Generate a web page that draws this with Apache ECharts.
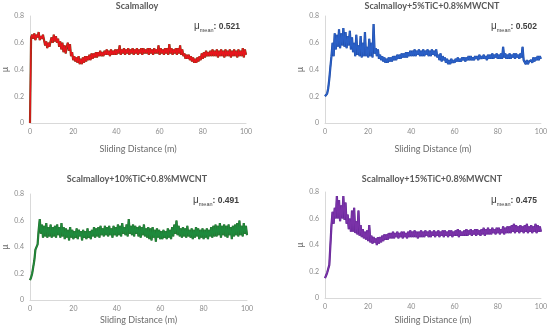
<!DOCTYPE html>
<html><head><meta charset="utf-8">
<script src="https://cdn.jsdelivr.net/npm/echarts@6/dist/echarts.min.js"></script>
<style>html,body{margin:0;padding:0;background:#fff}#c{width:550px;height:326px}</style>
</head><body><div id="c"></div>
<script>
const distance = [
0,0.5,1,1.5,2,2.5,3,3.5,4,4.5,5,5.5,6,6.5,7,7.5,8,8.5,9,9.5,
10,10.5,11,11.5,12,12.5,13,13.5,14,14.5,15,15.5,16,16.5,17,17.5,18,18.5,19,19.5,
20,20.5,21,21.5,22,22.5,23,23.5,24,24.5,25,25.5,26,26.5,27,27.5,28,28.5,29,29.5,
30,30.5,31,31.5,32,32.5,33,33.5,34,34.5,35,35.5,36,36.5,37,37.5,38,38.5,39,39.5,
40,40.5,41,41.5,42,42.5,43,43.5,44,44.5,45,45.5,46,46.5,47,47.5,48,48.5,49,49.5,
50,50.5,51,51.5,52,52.5,53,53.5,54,54.5,55,55.5,56,56.5,57,57.5,58,58.5,59,59.5,
60,60.5,61,61.5,62,62.5,63,63.5,64,64.5,65,65.5,66,66.5,67,67.5,68,68.5,69,69.5,
70,70.5,71,71.5,72,72.5,73,73.5,74,74.5,75,75.5,76,76.5,77,77.5,78,78.5,79,79.5,
80,80.5,81,81.5,82,82.5,83,83.5,84,84.5,85,85.5,86,86.5,87,87.5,88,88.5,89,89.5,
90,90.5,91,91.5,92,92.5,93,93.5,94,94.5,95,95.5,96,96.5,97,97.5,98,98.5,99,99.5,
100];

const muScalmalloy = [
0.00,0.64,
0.66,0.63,0.67,0.62,0.66,0.64,0.68,0.62,0.65,0.63,0.66,
0.62,0.58,0.61,0.56,0.60,0.57,0.61,
0.64,0.60,0.66,0.61,0.65,
0.60,0.63,0.57,0.61,0.55,0.60,
0.53,0.58,0.52,0.57,
0.60,0.54,0.59,
0.50,0.53,0.47,
0.50,0.46,0.49,0.45,0.50,0.44,0.48,0.44,0.49,0.45,
0.50,0.46,0.50,0.47,0.51,0.47,0.52,0.48,0.52,0.49,
0.53,0.49,0.53,0.50,0.54,0.50,0.53,0.50,0.54,0.51,
0.55,0.51,0.54,0.50,0.55,0.51,0.54,0.51,0.55,0.51,
0.55,0.52,0.58,0.51,0.55,0.52,0.56,0.51,0.55,0.52,
0.56,0.51,0.55,0.52,0.56,0.51,0.55,0.52,0.56,0.51,
0.55,0.52,0.56,0.51,0.56,0.52,0.55,0.52,0.56,0.51,
0.56,0.52,0.55,0.51,0.56,0.52,0.55,0.52,0.58,0.51,
0.56,0.52,0.55,0.51,0.56,0.52,0.56,0.51,0.59,0.52,
0.56,0.51,0.55,0.52,0.56,0.51,0.56,0.52,0.58,0.51,
0.55,0.50,0.52,0.48,0.51,0.48,0.51,0.47,0.50,0.46,
0.49,0.45,0.48,0.45,0.49,0.46,0.50,0.47,0.52,0.48,
0.53,0.49,0.54,0.50,0.53,0.50,0.54,0.50,0.55,0.50,
0.54,0.50,0.55,0.49,0.54,0.50,0.55,0.50,0.54,0.49,
0.55,0.50,0.54,0.50,0.55,0.49,0.54,0.50,0.55,0.50,
0.54,0.49,0.55,0.50,0.54,0.50,0.56,0.49,0.55,0.51];

const mu5TiC = [
0.20,0.20,0.22,0.26,0.33,0.42,0.50,
0.60,0.50,0.67,0.55,
0.66,0.57,0.70,0.56,0.67,0.58,0.71,0.57,0.68,0.56,0.65,0.58,0.69,0.55,0.64,0.53,
0.60,0.50,0.66,0.51,0.58,0.50,0.65,0.49,0.60,0.50,0.68,0.50,0.57,0.49,0.63,0.50,0.60,0.49,0.74,0.52,
0.56,0.50,0.55,0.48,
0.51,0.47,0.50,0.46,0.49,0.45,0.48,0.45,0.49,0.46,
0.49,0.46,0.50,0.47,0.50,0.47,0.51,0.48,0.51,0.48,
0.52,0.49,0.52,0.49,0.53,0.49,0.53,0.50,0.54,0.50,
0.54,0.50,0.55,0.50,0.54,0.51,0.55,0.50,0.54,0.50,
0.55,0.50,0.54,0.51,0.55,0.50,0.54,0.50,0.55,0.51,
0.54,0.50,0.55,0.49,0.51,0.47,0.52,0.46,0.50,0.47,
0.49,0.45,0.48,0.44,0.47,0.44,0.48,0.45,0.47,0.45,
0.48,0.46,0.49,0.46,0.48,0.46,0.49,0.47,0.49,0.46,
0.49,0.47,0.50,0.47,0.50,0.47,0.49,0.47,0.50,0.48,
0.50,0.47,0.51,0.48,0.50,0.48,0.51,0.48,0.50,0.47,
0.51,0.48,0.51,0.48,0.52,0.48,0.51,0.49,0.52,0.48,
0.51,0.48,0.52,0.48,0.57,0.49,0.52,0.48,0.51,0.48,
0.52,0.48,0.51,0.49,0.52,0.48,0.52,0.49,0.51,0.48,
0.52,0.49,0.57,0.47,0.46,0.44,0.47,0.44,0.46,0.45,
0.47,0.45,0.49,0.46,0.49,0.47,0.50,0.47,0.50,0.48];

const mu10TiC = [
0.15,0.17,0.20,0.25,0.30,0.38,0.39,0.42,0.53,0.61,0.50,
0.57,0.47,0.56,0.48,0.58,0.47,0.55,0.48,0.57,0.47,
0.55,0.48,0.56,0.47,0.57,0.49,0.55,0.47,0.58,0.48,
0.55,0.46,0.54,0.47,0.53,0.45,0.55,0.47,0.53,0.46,
0.52,0.47,0.54,0.46,0.53,0.48,0.52,0.45,0.53,0.47,
0.52,0.46,0.54,0.47,0.52,0.46,0.53,0.48,0.55,0.47,
0.54,0.48,0.55,0.47,0.56,0.49,0.54,0.48,0.56,0.49,
0.55,0.48,0.56,0.49,0.54,0.47,0.56,0.49,0.55,0.48,
0.57,0.49,0.56,0.48,0.58,0.50,0.55,0.49,0.57,0.48,
0.61,0.50,0.56,0.49,0.57,0.48,0.56,0.50,0.55,0.48,
0.56,0.47,0.55,0.49,0.57,0.48,0.54,0.47,0.55,0.46,
0.54,0.45,0.55,0.47,0.53,0.44,0.54,0.47,0.53,0.46,
0.52,0.46,0.53,0.47,0.52,0.46,0.54,0.47,0.53,0.46,
0.55,0.48,0.57,0.50,0.60,0.49,0.56,0.48,0.54,0.47,
0.55,0.48,0.54,0.47,0.56,0.48,0.53,0.47,0.54,0.46,
0.53,0.47,0.55,0.48,0.54,0.46,0.53,0.47,0.54,0.46,
0.53,0.47,0.54,0.46,0.53,0.48,0.55,0.47,0.56,0.48,
0.57,0.48,0.56,0.49,0.58,0.47,0.56,0.49,0.57,0.48,
0.56,0.47,0.57,0.49,0.55,0.46,0.56,0.48,0.57,0.49,
0.58,0.48,0.60,0.49,0.56,0.48,0.58,0.50,0.56,0.49];

const mu15TiC = [
0.15,0.17,0.19,0.20,0.25,0.40,0.55,
0.65,0.56,0.68,0.60,
0.77,0.60,0.74,0.58,0.70,0.60,0.77,0.59,0.72,0.56,
0.63,0.52,0.60,0.50,0.66,0.50,0.68,0.49,0.58,0.48,
0.66,0.47,0.55,0.46,0.52,0.45,0.50,0.44,0.51,0.43,
0.55,0.42,0.47,0.41,0.46,0.42,0.45,0.40,0.46,0.41,
0.46,0.42,0.47,0.43,0.48,0.44,0.48,0.44,0.49,0.45,
0.49,0.45,0.50,0.45,0.49,0.46,0.50,0.45,0.49,0.46,
0.50,0.45,0.50,0.46,0.49,0.45,0.50,0.46,0.51,0.46,
0.50,0.46,0.51,0.46,0.50,0.45,0.50,0.46,0.51,0.46,
0.50,0.46,0.51,0.47,0.50,0.46,0.51,0.46,0.50,0.47,
0.51,0.46,0.50,0.47,0.51,0.46,0.50,0.47,0.51,0.46,
0.51,0.47,0.50,0.46,0.51,0.47,0.51,0.46,0.50,0.47,
0.51,0.47,0.52,0.46,0.51,0.47,0.50,0.47,0.51,0.47,
0.52,0.47,0.51,0.48,0.52,0.47,0.51,0.48,0.52,0.47,
0.52,0.48,0.51,0.47,0.52,0.48,0.53,0.47,0.52,0.48,
0.53,0.48,0.52,0.48,0.53,0.49,0.52,0.48,0.53,0.49,
0.53,0.48,0.52,0.49,0.54,0.48,0.53,0.49,0.54,0.49,
0.54,0.49,0.55,0.50,0.56,0.49,0.55,0.50,0.54,0.49,
0.55,0.50,0.54,0.49,0.55,0.50,0.56,0.49,0.54,0.50,
0.55,0.49,0.54,0.50,0.56,0.49,0.55,0.50,0.54,0.50];

const panelTitles = ['Scalmalloy','Scalmalloy+5%TiC+0.8%MWCNT','Scalmalloy+10%TiC+0.8%MWCNT','Scalmalloy+15%TiC+0.8%MWCNT'];
const meanValues = ['0.521','0.502','0.491','0.475'];
const xTicks = [0,20,40,60,80,100];
const yTicks = [0,0.2,0.4,0.6,0.8];
const xAxisLabel = 'Sliding Distance (m)';
const yAxisLabel = 'μ';

const seriesData = [muScalmalloy, mu5TiC, mu10TiC, mu15TiC];
const colors = ['#e8141c','#2a5fc6','#1e8a3c','#7a32a8'];
const edgeColors = ['#6e4416','#1f4aa0','#2c6a2c','#5e2590'];
const grids = [
  {left:30, top:16, width:216, height:107},
  {left:325, top:16, width:217, height:107},
  {left:30, top:194, width:217, height:107},
  {left:325, top:192, width:217, height:107}
];
const xNameGaps = [22,22,16,18];
const titlePos = [[137,6],[432,6],[137,179],[432,179]];
const meanPos = [[194,25],[491,25],[193,199],[491,199]];
const FONT = 'Lato, "Open Sans", sans-serif';

const chart = echarts.init(document.getElementById('c'), null, {renderer:'canvas'});
const makeData = arr => arr.map((v,k)=>[distance[k], v]);
const option = {
  animation:false,
  backgroundColor:'#fff',
  grid: grids,
  xAxis: grids.map((g,i)=>({
    gridIndex:i, type:'value', min:xTicks[0], max:xTicks[xTicks.length-1], interval:20,
    name:xAxisLabel, nameLocation:'middle', nameGap:xNameGaps[i],
    nameTextStyle:{fontFamily:FONT, fontSize:9, color:'#6b6b6b'},
    axisLine:{show:true, lineStyle:{color:'#d9d9d9', width:1}},
    axisTick:{show:false}, splitLine:{show:false},
    axisLabel:{fontFamily:FONT, fontSize:7, color:'#8a8a8a', margin:5}
  })),
  yAxis: grids.map((g,i)=>({
    gridIndex:i, type:'value', min:yTicks[0], max:yTicks[yTicks.length-1], interval:0.2,
    name:yAxisLabel, nameLocation:'middle', nameGap:20, nameRotate:90,
    nameTextStyle:{fontFamily:FONT, fontSize:9, color:'#6b6b6b'},
    axisLine:{show:true, lineStyle:{color:'#d9d9d9', width:1}},
    axisTick:{show:false}, splitLine:{show:false},
    axisLabel:{fontFamily:FONT, fontSize:7, color:'#8a8a8a', margin:6}
  })),
  series: [
    ...seriesData.map((arr,i)=>({
      type:'line', xAxisIndex:i, yAxisIndex:i, showSymbol:false, symbol:'none',
      sampling:null, smooth:false, silent:true,
      lineStyle:{color:edgeColors[i], width:2.2},
      data: makeData(arr)
    })),
    ...seriesData.map((arr,i)=>({
      type:'line', xAxisIndex:i, yAxisIndex:i, showSymbol:false, symbol:'none',
      sampling:null, smooth:false,
      lineStyle:{color:colors[i], width:1.3},
      data: makeData(arr)
    }))
  ],
  graphic: [
    ...panelTitles.map((t,i)=>({
      type:'text', x:titlePos[i][0], y:titlePos[i][1],
      style:{text:t, fill:'#595959', font:'bold 9px '+FONT, textAlign:'center', textVerticalAlign:'middle'}
    })),
    ...meanValues.map((m,i)=>({
      type:'text', x:meanPos[i][0], y:meanPos[i][1],
      style:{
        text:'{a|μ}{b|mean}{c|: '+m+'}',
        textVerticalAlign:'middle',
        rich:{
          a:{fontFamily:'"Liberation Sans", Arial, sans-serif', fontSize:10, fill:'#404040', lineHeight:13, verticalAlign:'bottom'},
          b:{fontFamily:'"Liberation Sans", Arial, sans-serif', fontSize:5.5, fill:'#404040', lineHeight:13, verticalAlign:'bottom', padding:[0,0,-2,0]},
          c:{fontFamily:'"Liberation Sans", Arial, sans-serif', fontSize:8.5, fill:'#404040', fontWeight:'bold', lineHeight:13, verticalAlign:'bottom'}
        }
      }
    }))
  ]
};
chart.setOption(option);
</script>
</body></html>
